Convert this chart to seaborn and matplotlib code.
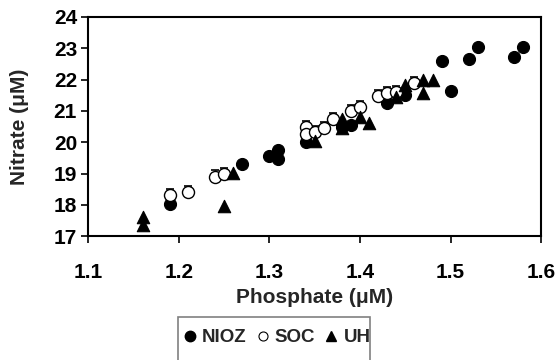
import matplotlib
matplotlib.use("Agg")
import matplotlib.pyplot as plt
import seaborn as sns
import pandas as pd
from matplotlib.lines import Line2D
from matplotlib.patches import Rectangle

# Data
nioz_p = [1.19, 1.27, 1.30, 1.31, 1.31, 1.34, 1.38, 1.39, 1.43, 1.45, 1.49, 1.50, 1.52, 1.53, 1.57, 1.58]
nioz_n = [18.04, 19.29, 19.57, 19.75, 19.45, 20.01, 20.50, 20.55, 21.24, 21.50, 22.59, 21.64, 22.65, 23.05, 22.71, 23.05]

soc_p = [1.19, 1.21, 1.24, 1.25, 1.34, 1.34, 1.35, 1.36, 1.37, 1.39, 1.40, 1.42, 1.43, 1.44, 1.46]
soc_n = [18.31, 18.40, 18.90, 18.98, 20.47, 20.26, 20.33, 20.46, 20.73, 20.99, 21.11, 21.47, 21.56, 21.61, 21.88]
soc_err = [0.2, 0.2, 0.2, 0.2, 0.2, 0.2, 0.2, 0.2, 0.2, 0.2, 0.2, 0.2, 0.2, 0.2, 0.2]

uh_p = [1.16, 1.16, 1.25, 1.26, 1.35, 1.38, 1.38, 1.40, 1.41, 1.44, 1.45, 1.47, 1.47, 1.48]
uh_n = [17.62, 17.35, 17.96, 19.02, 20.04, 20.73, 20.44, 20.81, 20.62, 21.45, 21.82, 22.00, 21.58, 22.00]

x_ticks = [1.1, 1.2, 1.3, 1.4, 1.5, 1.6]
y_ticks = [17, 18, 19, 20, 21, 22, 23, 24]
series_names = ["NIOZ", "SOC", "UH"]

sns.set_style("white")
plt.rcParams['font.family'] = ['Liberation Sans', 'DejaVu Sans']
plt.rcParams['font.weight'] = 'bold'

fig = plt.figure(figsize=(5.58, 3.6), dpi=100)
ax = fig.add_axes([0.158, 0.344, 0.812, 0.609])

df_n = pd.DataFrame({"p": nioz_p, "n": nioz_n})
df_s = pd.DataFrame({"p": soc_p, "n": soc_n})
df_u = pd.DataFrame({"p": uh_p, "n": uh_n})

ax.errorbar(soc_p, soc_n, yerr=[[0] * len(soc_err), soc_err], fmt='none',
            ecolor='black', elinewidth=1, capsize=3, capthick=1.2, zorder=1)
sns.scatterplot(data=df_n, x="p", y="n", ax=ax, marker='o', s=75,
                color='black', edgecolor='black', linewidth=0.8, zorder=3)
sns.scatterplot(data=df_s, x="p", y="n", ax=ax, marker='o', s=75,
                color='white', edgecolor='black', linewidth=1.0, zorder=4)
sns.scatterplot(data=df_u, x="p", y="n", ax=ax, marker='^', s=80,
                color='black', edgecolor='black', linewidth=0.8, zorder=5)

ax.set_xlim(1.1, 1.6)
ax.set_ylim(17, 24)
ax.set_xticks(x_ticks)
ax.set_yticks(y_ticks)
ax.set_xticklabels([f"{t:.1f}" for t in x_ticks], fontsize=15, fontweight='bold')
ax.set_yticklabels([str(t) for t in y_ticks], fontsize=15, fontweight='bold')
ax.tick_params(axis='both', direction='out', length=5, width=1.2, colors='black',
               bottom=True, left=True, pad=3)
ax.tick_params(axis='x', pad=14)
for s in ax.spines.values():
    s.set_color('black')
    s.set_linewidth(1.5)

ax.set_xlabel("Phosphate (μM)", fontsize=15, fontweight='bold', labelpad=5)
ax.set_ylabel("Nitrate (μM)", fontsize=15, fontweight='bold', labelpad=18)

handles = [
    Line2D([], [], marker='o', linestyle='none', markersize=7.5, markerfacecolor='black', markeredgecolor='black'),
    Line2D([], [], marker='o', linestyle='none', markersize=6.5, markerfacecolor='white', markeredgecolor='black', markeredgewidth=0.8),
    Line2D([], [], marker='^', linestyle='none', markersize=7, markerfacecolor='black', markeredgecolor='black'),
]
leg = fig.legend(handles, series_names, loc='center', bbox_to_anchor=(0.497, 0.062),
                 ncol=3, frameon=False, handlelength=0.6, handletextpad=0.35,
                 columnspacing=0.55, borderpad=0.2, prop={'size': 13.5, 'weight': 'bold'})
fig.patches.append(Rectangle((178 / 558, -0.02), 192 / 558, 0.02 + 43 / 360,
                             transform=fig.transFigure, facecolor='none',
                             edgecolor='#808080', linewidth=1.2))

fig.savefig("out.png", dpi=100)
